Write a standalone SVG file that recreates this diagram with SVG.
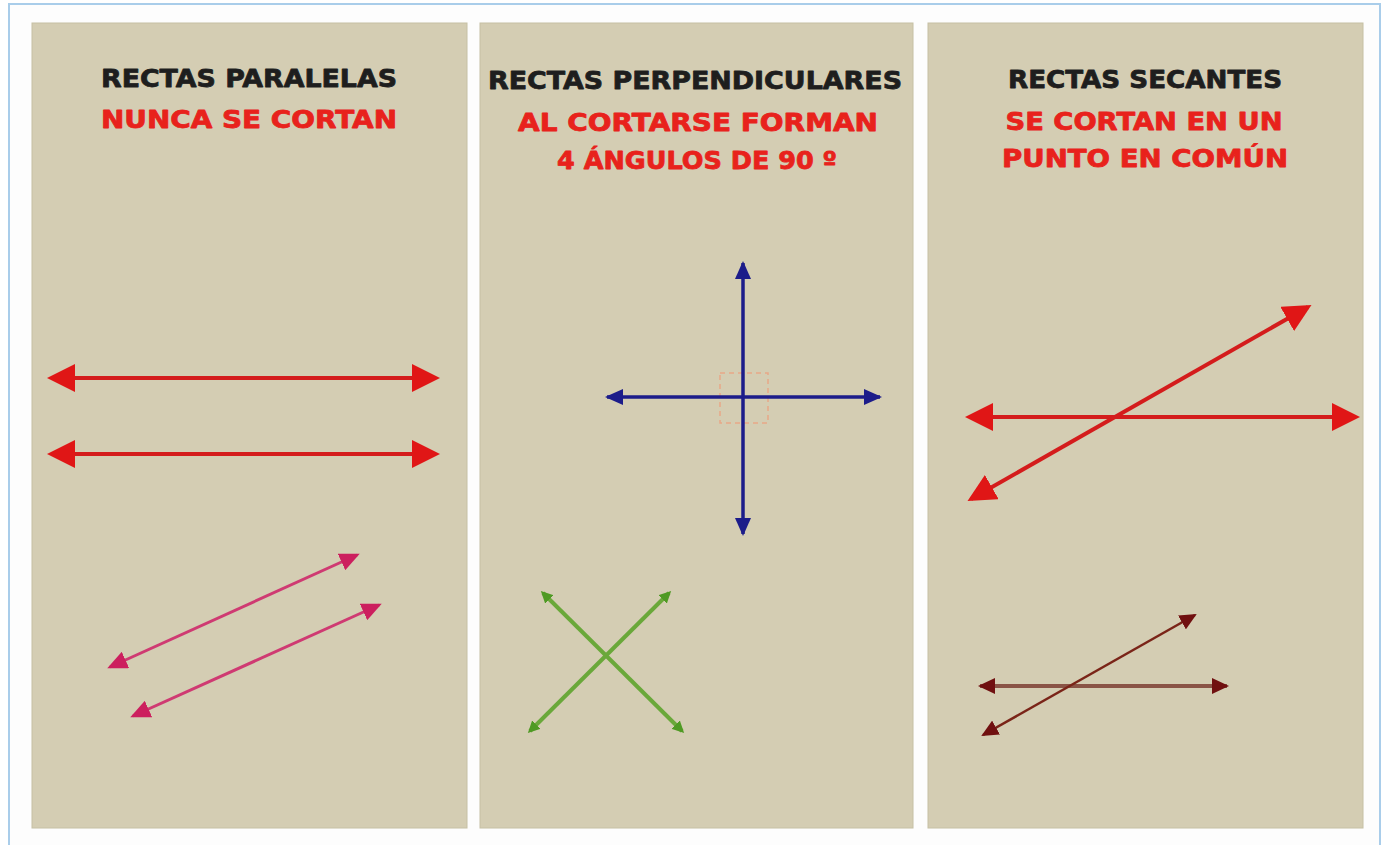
<svg xmlns="http://www.w3.org/2000/svg" width="1386" height="845" viewBox="0 0 1386 845">
<style>
.panel{fill:#d4cdb3;stroke:#c6c0a4;stroke-width:1}
.t{font-family:"DejaVu Sans","Liberation Sans",Arial,sans-serif;font-weight:bold;font-size:25px;text-anchor:middle;stroke-width:0.8;stroke-linejoin:round}
.blk{fill:#1e1e1e;stroke:#1e1e1e}
.red{fill:#e8221c;stroke:#e8221c}
.lred{stroke:#d41c1c;stroke-width:4;fill:none}
.lpink{stroke:#cf3a72;stroke-width:3;fill:none}
.lblue{stroke:#1c1c8a;stroke-width:3.5;fill:none}
.lgreen{stroke:#6aa83a;stroke-width:4;fill:none}
.lbrown{stroke:#8a5446;stroke-width:4;fill:none}
.lbrown2{stroke:#7a2418;stroke-width:2.5;fill:none}
</style>
<defs>
<marker id="mRed" markerUnits="userSpaceOnUse" markerWidth="28" markerHeight="28" viewBox="0 0 28 28" refX="24" refY="14" orient="auto-start-reverse"><path d="M0,0 L28,14 L0,28 Z" fill="#e01616"/></marker>
<marker id="mPink" markerUnits="userSpaceOnUse" markerWidth="20" markerHeight="18" viewBox="0 0 20 18" refX="17" refY="9" orient="auto-start-reverse"><path d="M0,0 L20,9 L0,18 Z" fill="#cc1f5e"/></marker>
<marker id="mBlue" markerUnits="userSpaceOnUse" markerWidth="18" markerHeight="16" viewBox="0 0 18 16" refX="16" refY="8" orient="auto-start-reverse"><path d="M0,0 L18,8 L0,16 Z" fill="#1c1c8a"/></marker>
<marker id="mGreen" markerUnits="userSpaceOnUse" markerWidth="12" markerHeight="12" viewBox="0 0 12 12" refX="9" refY="6" orient="auto-start-reverse"><path d="M0,0 L12,6 L0,12 Z" fill="#4f9a24"/></marker>
<marker id="mBrown" markerUnits="userSpaceOnUse" markerWidth="17" markerHeight="16" viewBox="0 0 17 16" refX="15" refY="8" orient="auto-start-reverse"><path d="M0,0 L17,8 L0,16 Z" fill="#701010"/></marker>
</defs>
<rect x="0" y="0" width="1386" height="845" fill="#ffffff"/>
<rect x="9" y="4" width="1371" height="850" fill="#fdfdfd" stroke="#a9cdea" stroke-width="2"/>

<g id="panel-paralelas">
<rect class="panel" x="32" y="23" width="435" height="805"/>
<text class="t blk" x="249" y="87" textLength="296" lengthAdjust="spacingAndGlyphs">RECTAS PARALELAS</text>
<text class="t red" x="249" y="128" textLength="296" lengthAdjust="spacingAndGlyphs">NUNCA SE CORTAN</text>
</g>
<g id="panel-perpendiculares">
<rect class="panel" x="480" y="23" width="433" height="805"/>
<text class="t blk" x="695" y="89" textLength="414" lengthAdjust="spacingAndGlyphs">RECTAS PERPENDICULARES</text>
<text class="t red" x="698" y="131" textLength="360" lengthAdjust="spacingAndGlyphs">AL CORTARSE FORMAN</text>
<text class="t red" x="697" y="169" textLength="280" lengthAdjust="spacingAndGlyphs">4 ÁNGULOS DE 90 º</text>
<rect x="720" y="373" width="48" height="50" fill="none" stroke="#e8a888" stroke-width="1.5" stroke-dasharray="5,4"/>
</g>
<g id="panel-secantes">
<rect class="panel" x="928" y="23" width="435" height="805"/>
<text class="t blk" x="1145" y="88" textLength="274" lengthAdjust="spacingAndGlyphs">RECTAS SECANTES</text>
<text class="t red" x="1144" y="130" textLength="277" lengthAdjust="spacingAndGlyphs">SE CORTAN EN UN</text>
<text class="t red" x="1145" y="167" textLength="286" lengthAdjust="spacingAndGlyphs">PUNTO EN COMÚN</text>
</g>

<g id="connectors">
<line class="lred" x1="51" y1="378" x2="436" y2="378" marker-start="url(#mRed)" marker-end="url(#mRed)"/>
<line class="lred" x1="51" y1="454" x2="436" y2="454" marker-start="url(#mRed)" marker-end="url(#mRed)"/>
<line class="lpink" x1="110" y1="667" x2="357" y2="555" marker-start="url(#mPink)" marker-end="url(#mPink)"/>
<line class="lpink" x1="133" y1="716" x2="379" y2="605" marker-start="url(#mPink)" marker-end="url(#mPink)"/>
<line class="lblue" x1="743" y1="263" x2="743" y2="534" marker-start="url(#mBlue)" marker-end="url(#mBlue)"/>
<line class="lblue" x1="607" y1="397" x2="880" y2="397" marker-start="url(#mBlue)" marker-end="url(#mBlue)"/>
<line class="lgreen" x1="543" y1="593" x2="682" y2="731" marker-start="url(#mGreen)" marker-end="url(#mGreen)"/>
<line class="lgreen" x1="669" y1="593" x2="530" y2="731" marker-start="url(#mGreen)" marker-end="url(#mGreen)"/>
<line class="lred" x1="969" y1="417" x2="1356" y2="417" marker-start="url(#mRed)" marker-end="url(#mRed)"/>
<line class="lred" x1="971" y1="499" x2="1308" y2="307" marker-start="url(#mRed)" marker-end="url(#mRed)"/>
<line class="lbrown" x1="980" y1="686" x2="1227" y2="686" marker-start="url(#mBrown)" marker-end="url(#mBrown)"/>
<line class="lbrown2" x1="983" y1="735" x2="1195" y2="615" marker-start="url(#mBrown)" marker-end="url(#mBrown)"/>
</g>
</svg>
